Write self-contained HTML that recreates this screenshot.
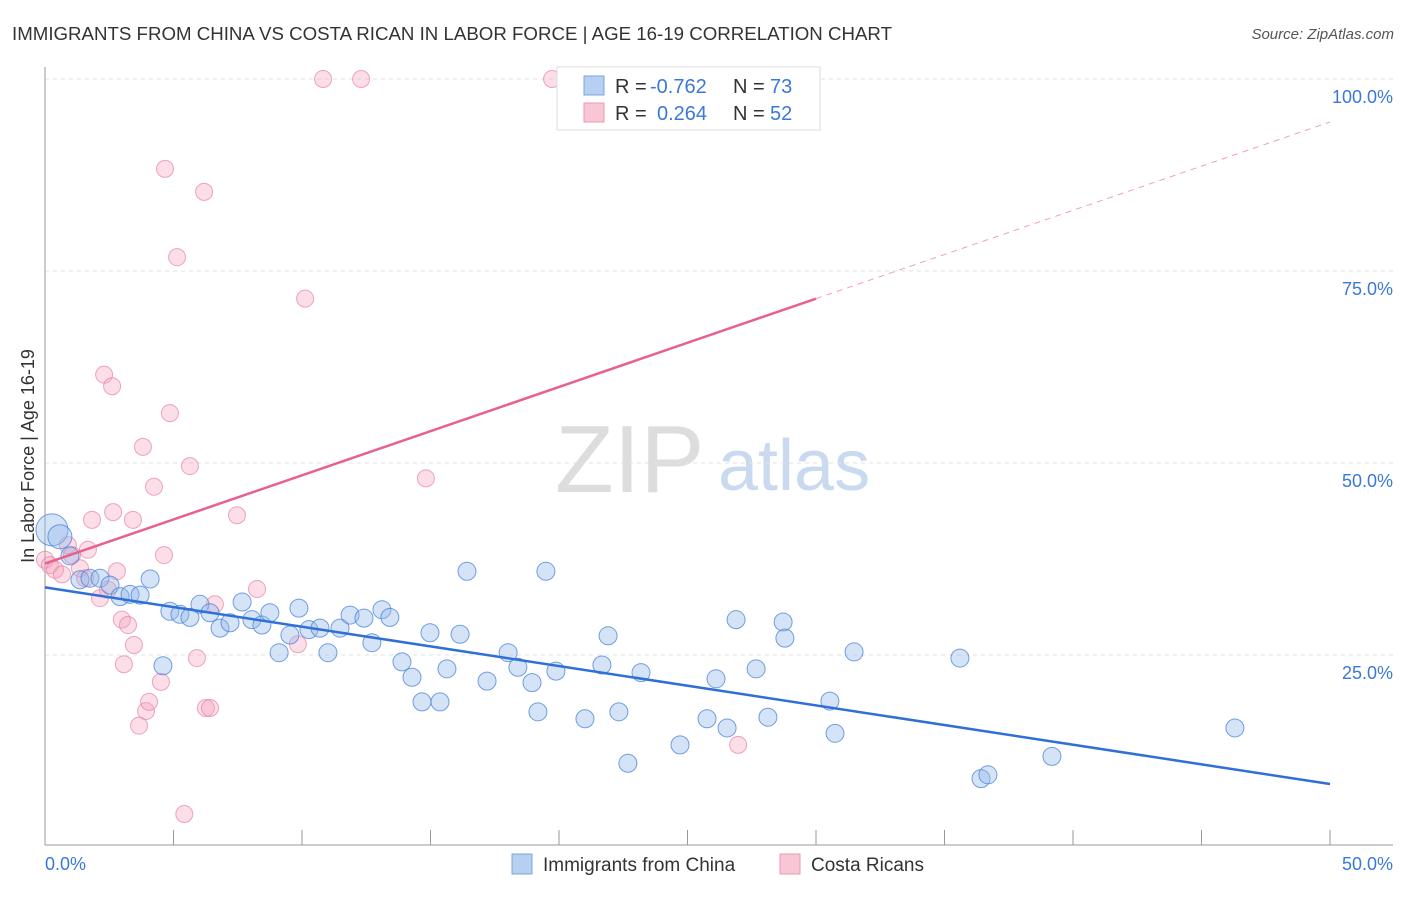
<!DOCTYPE html>
<html><head><meta charset="utf-8"><style>
body{margin:0;background:#fff;font-family:"Liberation Sans",sans-serif}
svg text{font-family:"Liberation Sans",sans-serif}
</style></head><body>
<svg id="chart" width="1406" height="892" xmlns="http://www.w3.org/2000/svg">
<text x="12" y="40" font-size="18" fill="#333" textLength="880" lengthAdjust="spacingAndGlyphs">IMMIGRANTS FROM CHINA VS COSTA RICAN IN LABOR FORCE | AGE 16-19 CORRELATION CHART</text>
<text x="1394" y="39" font-size="15" fill="#555" font-style="italic" text-anchor="end">Source: ZipAtlas.com</text>
<g>
<text x="555" y="492" font-size="96" fill="#ddd" font-family="Liberation Serif,serif">ZIP</text>
<text x="718" y="490" font-size="72" fill="#c9daf0">atlas</text>
</g>
<g id="grid"></g>
<g id="axes"></g>
<g id="marks"></g>
<g>
<rect x="557" y="67" width="263" height="63" fill="#fff" stroke="#ddd"/>
<rect x="584" y="76" width="20" height="19" fill="#b7d0f2" stroke="#7aa4dd"/>
<rect x="584" y="103" width="20" height="19" fill="#f8c6d4" stroke="#eb9ab2"/>
<text x="615" y="93" font-size="20" fill="#333">R = </text><text x="650" y="93" font-size="20" fill="#3b78d8">-0.762</text>
<text x="733" y="93" font-size="20" fill="#333">N = </text><text x="770" y="93" font-size="20" fill="#3b78d8">73</text>
<text x="615" y="120" font-size="20" fill="#333">R = </text><text x="657" y="120" font-size="20" fill="#3b78d8">0.264</text>
<text x="733" y="120" font-size="20" fill="#333">N = </text><text x="770" y="120" font-size="20" fill="#3b78d8">52</text>
</g>
<g>
<rect x="512" y="854" width="20" height="20" fill="#b7d0f2" stroke="#7aa4dd"/>
<text x="543" y="871" font-size="19" fill="#333">Immigrants from China</text>
<rect x="780" y="854" width="20" height="20" fill="#f8c6d4" stroke="#eb9ab2"/>
<text x="811" y="871" font-size="19" fill="#333">Costa Ricans</text>
</g>
<text transform="translate(34,456) rotate(-90)" font-size="18" fill="#333" text-anchor="middle">In Labor Force | Age 16-19</text>
</svg>
<script>
const yTicks=[25,50,75,100];
const yTickLabels=["25.0%","50.0%","75.0%","100.0%"];
const xTickLabels=["0.0%","50.0%"];
const chinaX=[0.27,0.58,0.97,1.36,1.75,2.14,2.53,2.92,3.31,3.70,4.09,4.59,4.86,5.25,5.64,6.03,6.42,6.81,7.20,7.67,8.05,8.44,8.75,9.11,9.53,9.88,10.27,10.70,11.01,11.48,11.87,12.41,12.72,13.11,13.42,13.89,14.28,14.67,14.98,15.37,15.64,16.15,16.42,17.20,18.02,18.40,18.95,19.18,19.49,19.88,21.01,21.67,21.91,22.33,22.68,23.19,24.71,25.76,26.11,26.54,26.89,27.67,28.13,28.72,28.79,30.54,30.74,31.48,35.60,36.42,36.69,39.18,46.30];
const chinaY=[41.3,40.4,37.9,34.8,35.0,35.0,34.1,32.6,32.9,32.8,34.9,23.6,30.7,30.3,29.9,31.6,30.5,28.5,29.2,31.9,29.6,28.9,30.5,25.3,27.6,31.1,28.3,28.5,25.3,28.5,30.2,29.8,26.6,30.9,29.9,24.1,22.1,18.9,27.9,18.9,23.2,27.7,35.9,21.6,25.3,23.4,21.4,17.6,35.9,22.9,16.7,23.7,27.5,17.6,10.9,22.7,13.3,16.7,21.9,15.5,29.6,23.2,16.9,29.3,27.2,19.0,14.8,25.4,24.6,8.9,9.4,11.8,15.5];
const costaX=[0,0.19,0.39,0.66,0.89,1.05,1.36,1.56,1.67,1.83,2.14,2.30,2.45,2.61,2.65,2.80,2.99,3.07,3.23,3.42,3.46,3.66,3.81,3.93,4.05,4.24,4.51,4.63,4.67,4.86,5.14,5.42,5.64,5.91,6.19,6.26,6.42,6.61,7.47,8.25,9.84,10.12,10.82,12.30,14.82,19.73,26.97];
const costaY=[37.4,36.7,36.1,35.5,39.3,38.0,36.3,35.0,38.7,42.6,32.4,61.5,33.5,60.0,43.6,35.9,29.6,23.8,28.9,42.6,26.3,15.8,52.1,17.7,18.9,46.9,21.5,38.0,88.3,56.5,76.8,4.3,49.6,24.6,85.3,18.1,18.1,31.6,43.2,33.6,26.4,71.4,100,100,48.0,100,13.3];
const chinaFit=[33.8,-0.512];
const costaFit=[36.9,1.15];
const NS="http://www.w3.org/2000/svg";
const X=v=>45+v*25.7, Y=v=>847-v*7.68;
function mk(p,t,a){const e=document.createElementNS(NS,t);for(const k in a)e.setAttribute(k,a[k]);p.appendChild(e);return e;}
const grid=document.getElementById('grid'),axes=document.getElementById('axes'),marks=document.getElementById('marks');
yTicks.forEach((t,i)=>{
 const l=mk(grid,'line',{x1:45,x2:1393,y1:Y(t),y2:Y(t),stroke:'#e2e2e2','stroke-dasharray':'4,4'});
 
 
 const tx=mk(axes,'text',{x:1393,y:Y(t)+24,'font-size':18,fill:'#3b78d8','text-anchor':'end'});tx.textContent=yTickLabels[i];
 
 
});
mk(axes,'line',{x1:45,x2:45,y1:67,y2:845,stroke:'#999'});
mk(axes,'line',{x1:45,x2:1393,y1:845,y2:845,stroke:'#999'});
for(let i=0;i<=10;i++){const l=mk(axes,'line',{x1:X(i*5),x2:X(i*5),y1:830,y2:845,stroke:'#999'});
 
 }
[[0,'start',45],[50,'end',1393]].forEach((d,i)=>{const t=mk(axes,'text',{x:d[2],y:870,'font-size':18,fill:'#3b78d8','text-anchor':d[1]});t.textContent=xTickLabels[i];
 
 });
costaX.forEach((x,i)=>{const c=mk(marks,'circle',{cx:X(x),cy:Y(costaY[i]),r:8.5,fill:'rgba(244,160,185,0.35)',stroke:'rgba(232,130,160,0.7)'});
 
 });
chinaX.forEach((x,i)=>{const c=mk(marks,'circle',{cx:X(x),cy:Y(chinaY[i]),r:i==0?16:(i==1?12:9),fill:'rgba(150,185,235,0.4)',stroke:'rgba(70,130,215,0.75)'});
 
 });
const bl=mk(marks,'line',{x1:X(0),y1:Y(chinaFit[0]),x2:X(50),y2:Y(chinaFit[0]+chinaFit[1]*50),stroke:'#2f6fd6','stroke-width':2.5});


const pl=mk(marks,'line',{x1:X(0),y1:Y(costaFit[0]),x2:X(30),y2:Y(costaFit[0]+costaFit[1]*30),stroke:'#e8618c','stroke-width':2.5});


const pd=mk(marks,'line',{x1:X(30),y1:Y(costaFit[0]+costaFit[1]*30),x2:X(50),y2:Y(costaFit[0]+costaFit[1]*50),stroke:'#f0a0b8','stroke-width':1,'stroke-dasharray':'6,5'});


</script>
</body></html>
